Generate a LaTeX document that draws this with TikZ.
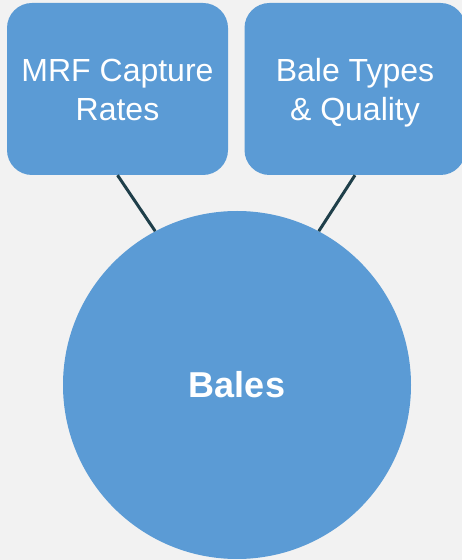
\documentclass[tikz,border=0pt]{standalone}
\usepackage{fontspec}
\setmainfont{Liberation Sans}
\usepackage{tikz}
\usepackage{xcolor}

\definecolor{bgray}{HTML}{F2F2F2}
\definecolor{bblue}{HTML}{5B9BD5}
\definecolor{bline}{HTML}{1F3F4A}

\begin{document}
\begin{tikzpicture}[x=1pt, y=1pt,
  topic/.style={fill=bblue, rounded corners=25pt, minimum width=221pt, minimum height=172pt},
  topictext/.style={text=white, align=center, font=\fontsize{32}{38.5}\selectfont},
  hub/.style={circle, fill=bblue, minimum size=348pt, inner sep=0pt,
    text=white, font=\fontsize{36}{40}\selectfont\bfseries},
  link/.style={bline, line width=3pt}]
\useasboundingbox[fill=bgray] (0,0) rectangle (462,560);
\node[topic] (mrf) at (117.5,471) {};
\node[topic] (types) at (355,471) {};
\node[topictext] (mrftext) at ([yshift=-4.5pt]mrf.center) {\strut MRF Capture\\Rates\strut};
\node[topictext] (typestext) at ([yshift=-4.5pt]types.center) {\strut Bale Types\\\& Quality\strut};
\node[hub] (bales) at (237,175) {Bales};
\draw[link] (mrf.south) -- (bales.118);
\draw[link] (types.south) -- (bales.62);
\end{tikzpicture}
\end{document}
